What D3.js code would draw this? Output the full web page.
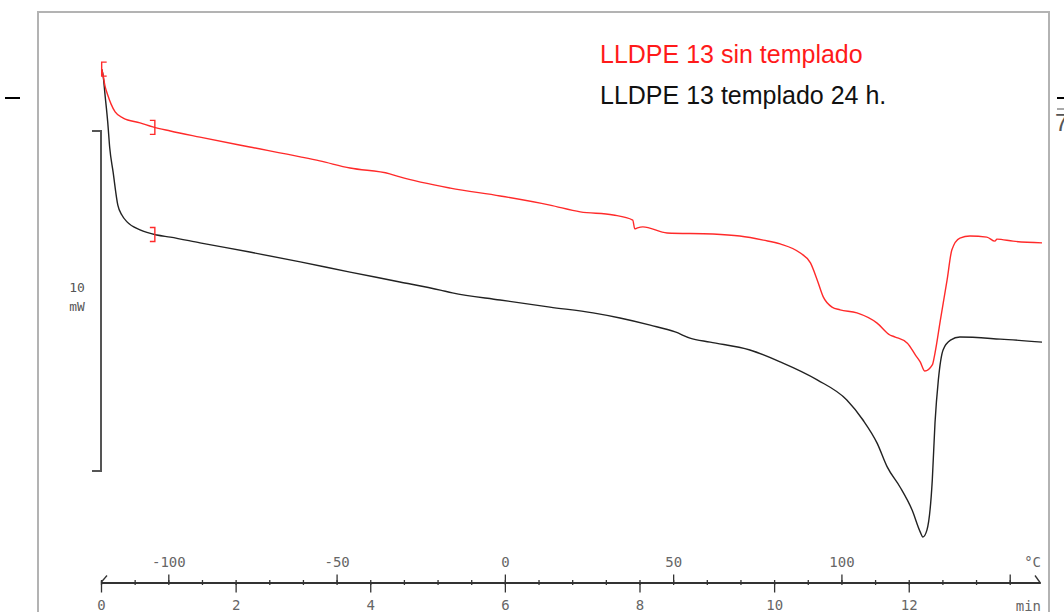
<!DOCTYPE html>
<html>
<head>
<meta charset="utf-8">
<script src="https://cdn.jsdelivr.net/npm/d3@7"></script>
<style>
body { margin: 0; background: #fff; }
svg { display: block; }
</style>
</head>
<body>
<div id="chart"></div>
<script>
// DSC heating curves, time (min) vs heat flow (mW), 20 K/min from -120 C
var seriesNames = ["LLDPE 13 sin templado", "LLDPE 13 templado 24 h."];
var seriesColors = ["#ff2a2a", "#222222"];

var redTime = [0.01, 0.03, 0.06, 0.10, 0.15, 0.21, 0.33, 0.58, 0.77, 1.03, 1.47, 2.21, 2.96, 3.25, 3.70, 4.29, 4.44, 5.19, 5.93, 6.67, 7.12, 7.61, 7.90, 7.93, 7.97, 8.05, 8.41, 9.09, 9.49, 9.84, 10.09, 10.39, 10.54, 10.64, 10.73, 10.86, 10.98, 11.23, 11.53, 11.72, 11.80, 11.98, 12.10, 12.17, 12.24, 12.35, 12.39, 12.47, 12.57, 12.64, 12.76, 12.91, 13.16, 13.28, 13.31, 13.55, 13.98];
var redFlow = [11.82, 11.65, 11.32, 11.06, 10.79, 10.56, 10.38, 10.24, 10.12, 10.00, 9.82, 9.53, 9.24, 9.12, 8.91, 8.74, 8.65, 8.32, 8.09, 7.82, 7.62, 7.53, 7.38, 7.12, 7.15, 7.18, 7.00, 6.97, 6.91, 6.79, 6.68, 6.41, 6.12, 5.62, 5.12, 4.82, 4.74, 4.65, 4.35, 4.00, 3.94, 3.76, 3.41, 3.21, 2.94, 3.12, 3.47, 4.44, 5.62, 6.50, 6.85, 6.91, 6.88, 6.76, 6.82, 6.76, 6.71];

var blackTime = [0.01, 0.03, 0.06, 0.10, 0.13, 0.18, 0.25, 0.31, 0.39, 0.58, 0.83, 1.03, 1.47, 2.21, 2.96, 3.70, 4.44, 5.04, 5.22, 5.93, 6.67, 7.31, 7.71, 8.16, 8.53, 8.75, 9.05, 9.64, 10.09, 10.64, 11.08, 11.32, 11.53, 11.68, 11.87, 12.05, 12.17, 12.21, 12.27, 12.35, 12.39, 12.44, 12.51, 12.62, 12.76, 13.36, 13.98];
var blackFlow = [11.82, 11.65, 11.06, 10.26, 9.50, 8.79, 7.82, 7.53, 7.32, 7.09, 6.94, 6.88, 6.71, 6.44, 6.15, 5.85, 5.56, 5.32, 5.24, 5.03, 4.82, 4.65, 4.50, 4.29, 4.09, 3.91, 3.79, 3.56, 3.21, 2.68, 2.09, 1.50, 0.82, 0.12, -0.47, -1.15, -1.79, -1.94, -1.74, -0.26, 1.41, 2.68, 3.56, 3.85, 3.94, 3.88, 3.79];

// integration limits (min)
var limitStart = 0.01;
var limitEnd = 0.8;

var minTicks = [0, 2, 4, 6, 8, 10, 12];
var tempTicks = [-100, -50, 0, 50, 100, 150];
var tempLabels = ["-100", "-50", "0", "50", "100", ""];
var minorTicks = d3.range(0, 14, 0.5);
var scaleBar = [0, 10];

var width = 1064, height = 612;
var axisY = 582.5;

var svg = d3.select("#chart")
    .append("svg")
    .attr("width", width)
    .attr("height", height);

var x = d3.scaleLinear()
    .domain([0, 13.95])
    .range([101, 1040]);

var xTemp = d3.scaleLinear()
    .domain([-120, -120 + 20 * 13.95])
    .range([101, 1040]);

var y = d3.scaleLinear()
    .domain([0, 10])
    .range([471, 131]);

// frame
svg.append("path")
    .attr("d", "M38,612 L38,12 L1049,12 L1049,612")
    .style("fill", "none")
    .style("stroke", "#b3b3b3")
    .style("stroke-width", 2);

// stray marks at the edges
svg.append("line")
    .attr("x1", 5).attr("x2", 20)
    .attr("y1", 98).attr("y2", 98)
    .style("stroke", "#000")
    .style("stroke-width", 2);
svg.append("line")
    .attr("x1", 1057).attr("x2", 1064)
    .attr("y1", 98).attr("y2", 98)
    .style("stroke", "#000")
    .style("stroke-width", 2);
svg.append("line")
    .attr("x1", 1057).attr("x2", 1064)
    .attr("y1", 109).attr("y2", 109)
    .style("stroke", "#555")
    .style("stroke-width", 1);
svg.append("text")
    .attr("x", 1055)
    .attr("y", 131)
    .attr("font-family", "Liberation Sans, Arial, sans-serif")
    .attr("font-size", 24)
    .attr("fill", "#555")
    .text("7");

// 10 mW scale bar
svg.append("path")
    .attr("d", "M92," + y(scaleBar[1]) + " L101," + y(scaleBar[1]) +
        " L101," + y(scaleBar[0]) + " L92," + y(scaleBar[0]))
    .style("fill", "none")
    .style("stroke", "#555")
    .style("stroke-width", 2);
svg.append("text")
    .attr("x", 77)
    .attr("y", 292)
    .attr("text-anchor", "middle")
    .attr("font-family", "DejaVu Sans Mono, monospace")
    .attr("font-size", 13)
    .attr("fill", "#555")
    .text(scaleBar[1] - scaleBar[0]);
svg.append("text")
    .attr("x", 77)
    .attr("y", 311)
    .attr("text-anchor", "middle")
    .attr("font-family", "Liberation Mono, monospace")
    .attr("font-size", 13)
    .attr("fill", "#555")
    .text("mW");

// axes
var minAxis = d3.axisBottom(x)
    .tickValues(minTicks)
    .tickSize(10)
    .tickSizeOuter(0)
    .tickPadding(8)
    .tickFormat(d3.format("d"));

var tempAxis = d3.axisTop(xTemp)
    .tickValues(tempTicks)
    .tickSize(8)
    .tickSizeOuter(0)
    .tickPadding(8)
    .tickFormat(function (d, i) { return tempLabels[i]; });

var minorDown = d3.axisBottom(x).tickValues(minorTicks).tickSize(2.5).tickSizeOuter(0).tickFormat("");
var minorUp = d3.axisTop(x).tickValues(minorTicks).tickSize(2.5).tickSizeOuter(0).tickFormat("");

[minorDown, minorUp, minAxis, tempAxis].forEach(function (ax) {
    var g = svg.append("g")
        .attr("transform", "translate(0," + axisY + ")")
        .call(ax);
    g.selectAll("path, line").style("stroke", "#333").style("stroke-width", 1.3);
    g.selectAll("text")
        .attr("font-family", "DejaVu Sans Mono, monospace")
        .attr("font-size", 14)
        .attr("fill", "#666");
});

// slanted ends of the axis
svg.append("line")
    .attr("x1", x(0)).attr("y1", axisY)
    .attr("x2", x(0) + 6).attr("y2", axisY - 7)
    .style("stroke", "#333").style("stroke-width", 1.3);
svg.append("line")
    .attr("x1", x(13.95) - 5).attr("y1", axisY - 7)
    .attr("x2", x(13.95)).attr("y2", axisY)
    .style("stroke", "#333").style("stroke-width", 1.3);

svg.append("text")
    .attr("x", 1041)
    .attr("y", 567)
    .attr("text-anchor", "end")
    .attr("font-family", "DejaVu Sans Mono, monospace")
    .attr("font-size", 14)
    .attr("fill", "#666")
    .text("°C");
svg.append("text")
    .attr("x", 1041)
    .attr("y", 611)
    .attr("text-anchor", "end")
    .attr("font-family", "DejaVu Sans Mono, monospace")
    .attr("font-size", 14)
    .attr("fill", "#666")
    .text("min");

// curves
var line = d3.line()
    .x(function (d) { return x(d[0]); })
    .y(function (d) { return y(d[1]); })
    .curve(d3.curveMonotoneX);

var blackData = d3.zip(blackTime, blackFlow);
var redData = d3.zip(redTime, redFlow);

svg.append("path")
    .datum(blackData)
    .attr("d", line)
    .style("fill", "none")
    .style("stroke", seriesColors[1])
    .style("stroke-width", 1.4);

svg.append("path")
    .datum(redData)
    .attr("d", line)
    .style("fill", "none")
    .style("stroke", seriesColors[0])
    .style("stroke-width", 1.4);

// integration brackets
function bracket(t, times, flows, dir, color) {
    var v = d3.scaleLinear().domain(times).range(flows)(t);
    var cx = x(t), cy = y(v);
    var w = 5 * dir;
    svg.append("path")
        .attr("d", "M" + (cx + w) + "," + (cy - 7) + " L" + cx + "," + (cy - 7) +
            " L" + cx + "," + (cy + 7) + " L" + (cx + w) + "," + (cy + 7))
        .style("fill", "none")
        .style("stroke", color)
        .style("stroke-width", 1.4);
}
bracket(limitEnd, blackTime, blackFlow, -1, seriesColors[0]);
bracket(limitEnd, redTime, redFlow, -1, seriesColors[0]);
bracket(limitStart, redTime, redFlow, 1, seriesColors[0]);

// legend
seriesNames.forEach(function (name, i) {
    svg.append("text")
        .attr("x", 600)
        .attr("y", 63 + i * 41)
        .attr("font-family", "Liberation Sans, Arial, sans-serif")
        .attr("font-size", 25)
        .attr("fill", i == 0 ? "#ff1a1a" : "#111")
        .text(name);
});
</script>
</body>
</html>
